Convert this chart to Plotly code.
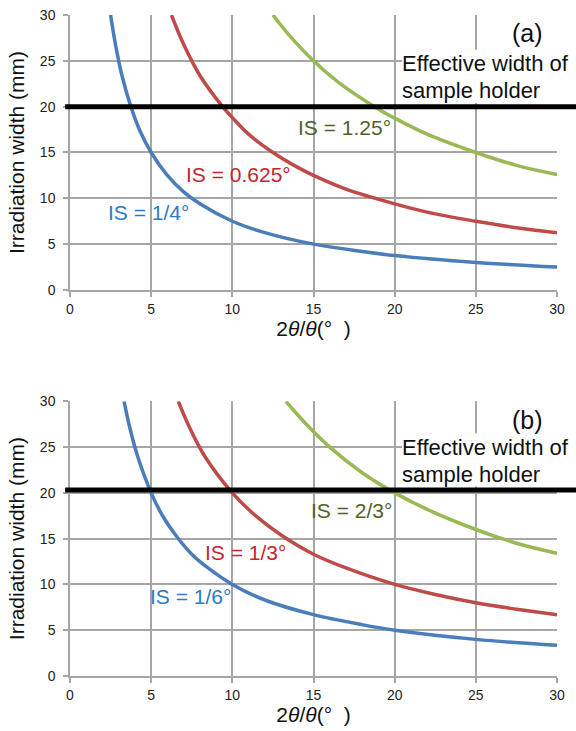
import plotly.graph_objects as go
from plotly.subplots import make_subplots

# ---- panel (a): irradiation width vs 2θ/θ for three incident slits ----
a_x_quarter = [2.5, 2.8, 3.2, 3.75, 4.3, 5, 6, 7, 8, 10, 12, 15, 18, 20, 25, 30]
a_y_quarter = [30, 26.8, 23.4, 20, 17.4, 15, 12.5, 10.7, 9.4, 7.5, 6.25, 5, 4.2, 3.75, 3, 2.5]

a_x_0625 = [6.25, 7, 8, 9.4, 10, 11, 12.5, 14, 15, 17, 20, 22.5, 25, 27.5, 30]
a_y_0625 = [30, 26.8, 23.4, 20, 18.8, 17, 15, 13.4, 12.5, 11, 9.4, 8.3, 7.5, 6.8, 6.25]

a_x_125 = [12.5, 13.5, 15, 16.5, 18.75, 20, 22, 25, 27.5, 30]
a_y_125 = [30, 27.8, 25, 22.7, 20, 18.75, 17, 15, 13.6, 12.6]

# ---- panel (b) ----
b_x_sixth = [3.33, 3.7, 4.2, 5, 5.7, 6.5, 7.5, 8.5, 10, 12, 15, 18, 20, 25, 30]
b_y_sixth = [30, 27, 23.8, 20, 17.5, 15.4, 13.3, 11.8, 10, 8.3, 6.7, 5.6, 5, 4, 3.35]

b_x_third = [6.67, 7.4, 8.3, 10, 11.5, 13, 15, 17, 20, 22.5, 25, 27.5, 30]
b_y_third = [30, 27, 24, 20, 17.4, 15.4, 13.3, 11.8, 10, 8.9, 8, 7.3, 6.7]

b_x_twothird = [13.3, 14.5, 16, 18, 20, 22, 25, 27.5, 30]
b_y_twothird = [30, 27.6, 25, 22.2, 20, 18.2, 16, 14.5, 13.4]

x_ticks = [0, 5, 10, 15, 20, 25, 30]
y_ticks = [0, 5, 10, 15, 20, 25, 30]
holder_width_a = 20
holder_width_b = 20.3

BLUE, RED, GREEN = "#4a7ebb", "#be4b48", "#98b954"
BLUE_TXT, RED_TXT, GREEN_TXT = "#2c7bc4", "#c3262b", "#4f6228"
GRID = "#a6a6a6"
FONT = "Liberation Sans, Arial, sans-serif"

fig = make_subplots(rows=2, cols=1, vertical_spacing=0.1684)

curves = [
    (1, a_x_quarter, a_y_quarter, BLUE),
    (1, a_x_0625, a_y_0625, RED),
    (1, a_x_125, a_y_125, GREEN),
    (2, b_x_sixth, b_y_sixth, BLUE),
    (2, b_x_third, b_y_third, RED),
    (2, b_x_twothird, b_y_twothird, GREEN),
]
for row, xs, ys, col in curves:
    fig.add_trace(
        go.Scatter(x=xs, y=ys, mode="lines",
                   line=dict(color=col, width=3.5, shape="spline", smoothing=1.0),
                   showlegend=False, hoverinfo="skip"),
        row=row, col=1,
    )

fig.update_layout(
    width=576, height=731,
    margin=dict(l=70, r=19, t=15, b=55, autoexpand=False),
    paper_bgcolor="white", plot_bgcolor="white",
    font=dict(family=FONT, color="#222222"),
)

for r in (1, 2):
    fig.update_xaxes(
        range=[0, 30], tickvals=x_ticks, showgrid=True, gridcolor=GRID, gridwidth=1.5,
        showline=True, linecolor=GRID, linewidth=1.5, mirror=False, automargin=False,
        ticks="outside", ticklen=5, tickcolor=GRID, tickwidth=1.5,
        tickfont=dict(size=14, color="#222222", family=FONT), zeroline=False,
        title=dict(text="2<i>θ</i>/<i>θ</i>(°  )", font=dict(size=21, family=FONT, color="#111111"),
                   standoff=6),
        row=r, col=1,
    )
    fig.update_yaxes(
        range=[0, 30], tickvals=y_ticks, showgrid=True, gridcolor=GRID, gridwidth=1.5,
        showline=True, linecolor=GRID, linewidth=1.5, automargin=False,
        ticks="outside", ticklen=5, tickcolor=GRID, tickwidth=1.5, ticklabelstandoff=5,
        tickfont=dict(size=14, color="#222222", family=FONT), zeroline=False,
        title=dict(text="Irradiation width (mm)", font=dict(size=21, family=FONT, color="#111111"),
                   standoff=10),
        row=r, col=1,
    )

# panel domains
fig.update_layout(
    yaxis=dict(domain=[0.584, 1.0]),
    yaxis2=dict(domain=[0.0, 0.4156]),
)

# white backing for the holder annotation, then the sample-holder line
for yref, y0, y1 in (("y", 20.4, 26.2), ("y2", 20.7, 26.5)):
    fig.add_shape(type="rect", xref="paper", yref=yref,
                  x0=(402 - 70) / 487, x1=1.03, y0=y0, y1=y1,
                  fillcolor="white", line=dict(width=0), layer="above")

for yref, val in (("y", holder_width_a), ("y2", holder_width_b)):
    fig.add_shape(type="line", xref="paper", yref=yref,
                  x0=-0.01, x1=1.05, y0=val, y1=val,
                  line=dict(color="black", width=5), layer="above")


def label(text, x, y, yref, color, size=21, xref="x", anchor="left"):
    fig.add_annotation(text=text, x=x, y=y, xref=xref, yref=yref, showarrow=False,
                       xanchor=anchor, yanchor="middle",
                       font=dict(size=size, color=color, family=FONT))


# panel (a) labels
label("IS = 1.25°", 13.9, 17.7, "y", GREEN_TXT)
label("IS = 0.625°", 7.0, 12.65, "y", RED_TXT)
label("IS = 1/4°", 2.2, 8.5, "y", BLUE_TXT)
label("(a)", 28.16, 28.0, "y", "#111111", size=25, anchor="center")
label("Effective width of", 20.35, 24.75, "y", "#111111", size=22)
label("sample holder", 20.35, 21.8, "y", "#111111", size=22)

# panel (b) labels
label("IS = 2/3°", 14.75, 18.1, "y2", GREEN_TXT)
label("IS = 1/3°", 8.2, 13.5, "y2", RED_TXT)
label("IS = 1/6°", 4.8, 8.7, "y2", BLUE_TXT)
label("(b)", 28.16, 28.0, "y2", "#111111", size=25, anchor="center")
label("Effective width of", 20.35, 24.9, "y2", "#111111", size=22)
label("sample holder", 20.35, 21.95, "y2", "#111111", size=22)

fig.write_html("out.html")
